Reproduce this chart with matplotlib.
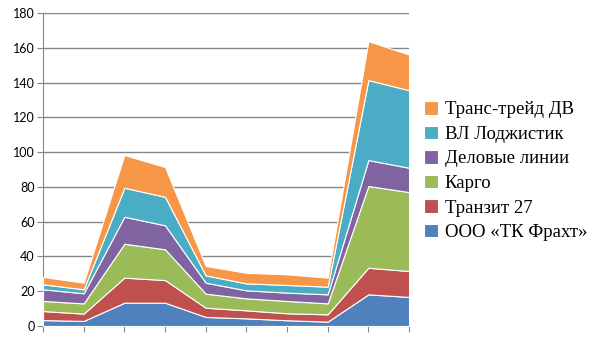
import matplotlib
matplotlib.use('Agg')
import matplotlib.pyplot as plt
import numpy as np

# данные по точкам (10 периодов)
points = list(range(10))
fraht = [3.4, 2.9, 13.4, 13.4, 5.2, 4.4, 3.3, 2.5, 18.2, 16.7]
tranzit = [5.2, 4.2, 14.4, 13.0, 5.3, 4.6, 4.0, 4.2, 15.3, 14.9]
kargo = [5.8, 5.9, 19.5, 17.7, 8.1, 6.9, 7.1, 6.3, 47.0, 45.4]
delovye = [6.7, 5.8, 15.5, 13.8, 6.3, 4.6, 4.8, 5.2, 14.9, 14.0]
vl = [2.9, 2.3, 16.7, 16.4, 4.2, 4.0, 4.4, 4.4, 46.0, 44.6]
trans = [4.2, 3.8, 18.8, 17.1, 5.4, 6.1, 6.1, 5.2, 22.4, 20.5]

names = ['ООО «ТК Фрахт»', 'Транзит 27', 'Карго', 'Деловые линии', 'ВЛ Лоджистик', 'Транс-трейд ДВ']
colors = ['#4F81BD', '#C0504D', '#9BBB59', '#8064A2', '#4BACC6', '#F79646']

fig = plt.figure(figsize=(6.05, 3.4), dpi=100)
ax = fig.add_axes([0.0711, 0.0412, 0.6050, 0.9206])

polys = ax.stackplot(points, fraht, tranzit, kargo, delovye, vl, trans,
                     colors=colors, labels=names, edgecolor='white', linewidth=0.8, zorder=3)

ax.set_xlim(0, 9)
ax.set_ylim(0, 180)
ax.set_yticks(np.arange(0, 181, 20))
ax.set_xticks(points)
ax.set_xticklabels([])
ax.grid(axis='y', color='#868686', linewidth=1, zorder=0)
ax.set_axisbelow(True)

for s in ['top', 'right']:
    ax.spines[s].set_visible(False)
ax.spines['left'].set_color('#868686')
ax.spines['bottom'].set_color('#868686')
ax.tick_params(axis='y', length=4, color='#868686', labelsize=9, pad=2)
ax.tick_params(axis='x', length=4, color='#868686')
for lab in ax.get_yticklabels():
    lab.set_family('Lato')

handles, labels = ax.get_legend_handles_labels()
leg = fig.legend(handles[::-1], labels[::-1], loc='center left', bbox_to_anchor=(0.673, 0.497),
                 frameon=False, prop={'family': 'Liberation Serif', 'size': 13.5},
                 handlelength=0.75, handleheight=0.75, handletextpad=0.35, labelspacing=0.38)

fig.savefig('out.png', dpi=100)
